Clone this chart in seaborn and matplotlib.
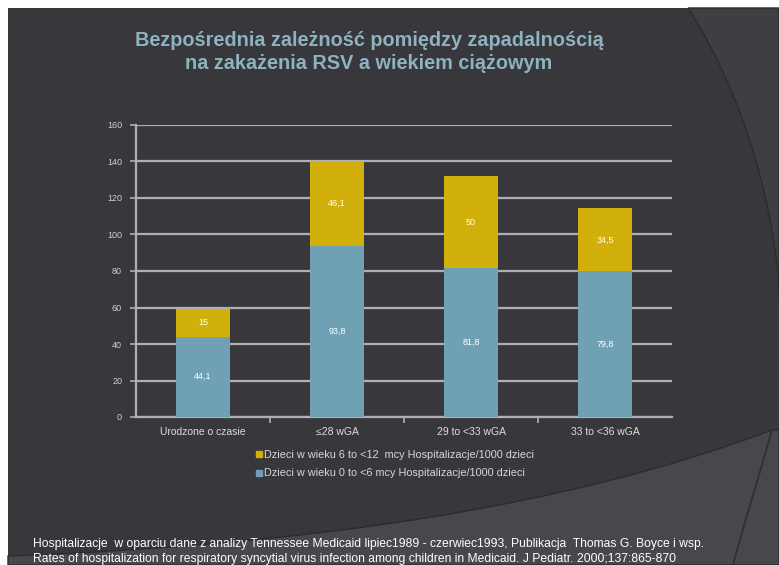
import matplotlib
matplotlib.use("Agg")
import matplotlib.pyplot as plt
import seaborn as sns
import pandas as pd
from matplotlib.patches import Rectangle, PathPatch
from matplotlib.path import Path
from matplotlib.lines import Line2D

categories = ["Urodzone o czasie", "≤28 wGA", "29 to <33 wGA", "33 to <36 wGA"]
young = [44.1, 93.8, 81.8, 79.8]      # 0 to <6 months
older = [15, 46.1, 50, 34.5]          # 6 to <12 months
young_labels = ["44,1", "93,8", "81,8", "79,8"]
older_labels = ["15", "46,1", "50", "34,5"]
legend_older = "Dzieci w wieku 6 to <12  mcy Hospitalizacje/1000 dzieci"
legend_young = "Dzieci w wieku 0 to <6 mcy Hospitalizacje/1000 dzieci"
title = "Bezpośrednia zależność pomiędzy zapadalnością\nna zakażenia RSV a wiekiem ciążowym"
footer1 = ("Hospitalizacje  w oparciu dane z analizy Tennessee Medicaid lipiec1989 - czerwiec1993, "
           "Publikacja  Thomas G. Boyce i wsp.")
footer2 = ("Rates of hospitalization for respiratory syncytial virus infection among children in "
           "Medicaid. J Pediatr. 2000;137:865-870")

sns.set_theme(style="dark")
plt.rcParams["font.family"] = ["Liberation Sans", "DejaVu Sans"]

W, H = 779, 565
fig = plt.figure(figsize=(W / 100, H / 100), dpi=100, facecolor="white")

BG = "#38373b"
GOLD = "#d2b00c"
BLUE = "#6fa0b4"
GRID = "#b0b0b2"

def fx(x): return x / W
def fy(y): return 1 - y / H

# background panel
fig.patches.append(Rectangle((fx(8), 0), 1 - fx(8), fy(8), transform=fig.transFigure,
                             facecolor=BG, edgecolor="none", zorder=-3))
# lighter swoosh at bottom right
verts = [(fx(8), fy(556)), (fx(300), fy(545)), (fx(560), fy(510)), (fx(772), fy(430)),
         (fx(779), fy(430)), (fx(779), fy(565)), (fx(8), fy(565)), (fx(8), fy(556))]
codes = [Path.MOVETO, Path.CURVE4, Path.CURVE4, Path.CURVE4,
         Path.LINETO, Path.LINETO, Path.LINETO, Path.CLOSEPOLY]
fig.patches.append(PathPatch(Path(verts, codes), transform=fig.transFigure,
                             facecolor="#48474c", edgecolor="#2c2b2e", lw=1.0, zorder=-2))
# right arc
verts2 = [(fx(688), fy(8)), (fx(760), fy(120)), (fx(779), fy(250)), (fx(779), fy(300)),
          (fx(779), fy(8)), (fx(688), fy(8))]
codes2 = [Path.MOVETO, Path.CURVE4, Path.CURVE4, Path.CURVE4, Path.LINETO, Path.CLOSEPOLY]
fig.patches.append(PathPatch(Path(verts2, codes2), transform=fig.transFigure,
                             facecolor="#3f3e42", edgecolor="#2c2b2e", lw=1.0, zorder=-2))
# lower right arc line
verts3 = [(fx(772), fy(430)), (fx(755), fy(490)), (fx(742), fy(530)), (fx(733), fy(565))]
codes3 = [Path.MOVETO, Path.CURVE4, Path.CURVE4, Path.CURVE4]
fig.patches.append(PathPatch(Path(verts3, codes3), transform=fig.transFigure,
                             facecolor="none", edgecolor="#2e2d30", lw=1.2, zorder=-1))

ax = fig.add_axes([fx(136), fy(417), fx(672) - fx(136), fy(125) - fy(417)])
ax.set_facecolor("none")

df = pd.DataFrame({"cat": categories, "young": young, "older": older})
df["total"] = df["young"] + df["older"]

sns.barplot(data=df, x="cat", y="total", color=GOLD, saturation=1, width=0.4, ax=ax,
            zorder=3, linewidth=0, edgecolor="none")
sns.barplot(data=df, x="cat", y="young", color=BLUE, saturation=1, width=0.4, ax=ax,
            zorder=3, linewidth=0, edgecolor="none")

bars_young = ax.containers[1]
for i, by in enumerate(bars_young):
    cx = by.get_x() + by.get_width() / 2
    ax.text(cx, young[i] / 2, young_labels[i], ha="center", va="center",
            color="white", fontsize=6.5, zorder=5)
    ax.text(cx, young[i] + older[i] / 2, older_labels[i], ha="center", va="center",
            color="white", fontsize=6.5, zorder=5)

ax.set_ylim(0, 160)
ax.set_xlim(-0.5, 3.5)
ax.set_yticks(range(0, 161, 20))
ax.yaxis.grid(True, color=GRID, lw=1.6, zorder=0)
ax.xaxis.grid(False)
ax.set_axisbelow(True)
ax.set_xlabel("")
ax.set_ylabel("")
for s in ["top", "right"]:
    ax.spines[s].set_visible(False)
for s in ["left", "bottom"]:
    ax.spines[s].set_visible(True)
    ax.spines[s].set_color(GRID)
    ax.spines[s].set_linewidth(1.6)
ax.tick_params(axis="y", labelcolor="#cfcfcf", color=GRID, labelsize=6.5,
               length=4, width=1.2, left=True, direction="out", pad=6)
ax.set_xticks([0, 1, 2, 3])
ax.set_xticklabels(categories)
ax.tick_params(axis="x", labelcolor="#dcdcdc", labelsize=7.5, length=0, pad=7)
ax.set_xticks([0.5, 1.5, 2.5], minor=True)
ax.tick_params(axis="x", which="minor", bottom=True, length=4, width=1.2, color=GRID)

h = [Line2D([], [], marker="s", ls="none", color=GOLD, markersize=4.5),
     Line2D([], [], marker="s", ls="none", color=BLUE, markersize=4.5)]
fig.legend(h, [legend_older, legend_young], loc="center left",
           bbox_to_anchor=(fx(250), fy(464)), frameon=False, fontsize=7.8,
           labelcolor="#d8d8d8", handlelength=0.6, handletextpad=0.2,
           labelspacing=0.8, borderpad=0)

fig.text(fx(369), fy(52), title, ha="center", va="center", color="#8db2c0",
         fontsize=14.3, fontweight="bold", linespacing=1.3)
fig.text(fx(33), fy(544), footer1, ha="left", va="center", color="white", fontsize=8.7)
fig.text(fx(33), fy(559), footer2, ha="left", va="center", color="white", fontsize=8.7)

fig.savefig("out.png", dpi=100, facecolor="white")
